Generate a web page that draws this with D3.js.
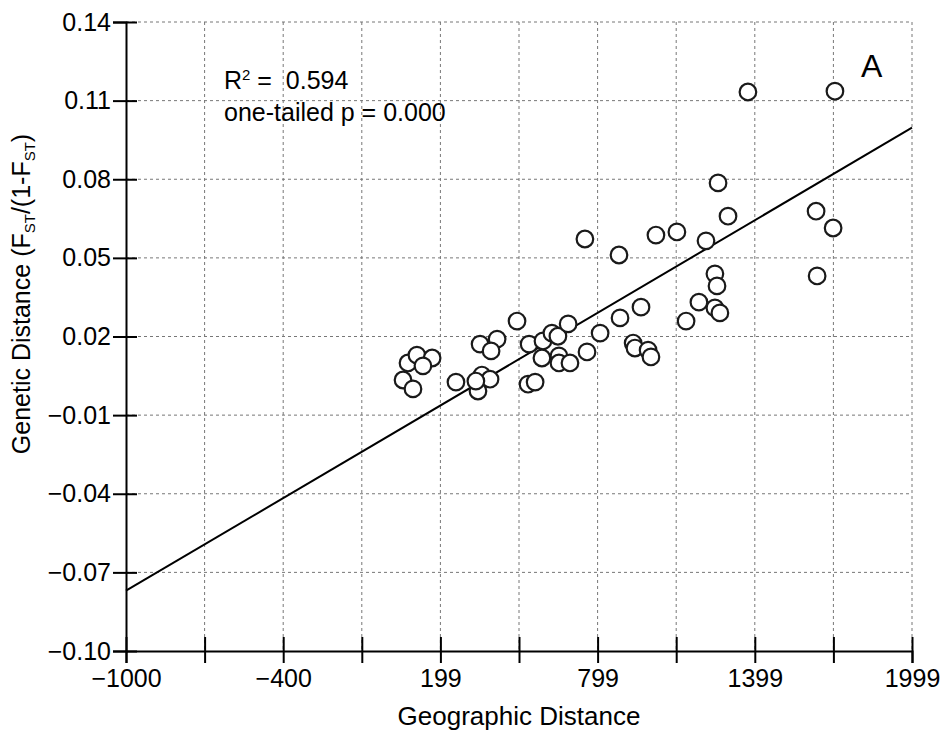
<!doctype html>
<html>
<head>
    <style>
        body { margin: 0; background: #fff; }
        svg { font-family: "Liberation Sans", Arial, sans-serif; }
        .grid line { stroke: #777; stroke-width: 1; stroke-dasharray: 3,3; }
        .axis path, .axis line { stroke: #000; stroke-width: 2; }
        .axis text { font-size: 25px; fill: #000; }
        .dot { fill: #fff; stroke: #1a1a1a; stroke-width: 2.2; }
    </style>
    <script src="https://d3js.org/d3.v7.min.js"></script>
</head>
<body>
<svg width="941" height="735"></svg>
<script>
// geographic distance / genetic distance pairs
var geoDist = [57, 95, 76, 110, 168, 133, 259, 351, 416, 393, 358, 343, 389, 335,
    492, 538, 534, 561, 591, 587, 625, 648, 687, 652, 652, 694, 759, 809, 885, 965,
    935, 942, 992, 1003, 751, 881, 1022, 1102, 1213, 1297, 1259, 1247, 1255, 1186,
    1247, 1266, 1137, 1373, 1705, 1633, 1698, 1637];
var genDist = [0.0034, 0.0000, 0.0099, 0.0129, 0.0118, 0.0088, 0.0026, 0.0171, 0.0190,
    0.0145, 0.0053, -0.0008, 0.0037, 0.0030, 0.0259, 0.0171, 0.0018, 0.0026, 0.0183,
    0.0118, 0.0213, 0.0201, 0.0248, 0.0126, 0.0099, 0.0099, 0.0141, 0.0213, 0.0271,
    0.0312, 0.0175, 0.0156, 0.0148, 0.0122, 0.0572, 0.0511, 0.0587, 0.0599, 0.0565,
    0.0659, 0.0786, 0.0439, 0.0393, 0.0331, 0.0309, 0.0290, 0.0259, 0.1133, 0.1136,
    0.0678, 0.0614, 0.0431];

// fitted regression line end points
var fitX = [-1000, 1999];
var fitY = [-0.0770, 0.0997];

var xTicks = d3.range(0, 11).map(function(k) { return -1000 + k * 2999 / 10; });
var xTickLabels = ["\u22121000", "", "\u2212400", "", "199", "", "799", "", "1399", "", "1999"];
var yTicks = [0.14, 0.11, 0.08, 0.05, 0.02, -0.01, -0.04, -0.07, -0.10];
var yTickLabels = ["0.14", "0.11", "0.08", "0.05", "0.02", "\u22120.01", "\u22120.04", "\u22120.07", "\u22120.10"];

var svg = d3.select("svg"),
    mLeft = 126, mRight = 912, mTop = 22, mBottom = 651;

var x = d3.scaleLinear().domain([-1000, 1999]).range([mLeft, mRight]),
    y = d3.scaleLinear().domain([-0.10, 0.14]).range([mBottom, mTop]);

// dotted grid
var grid = svg.append("g").attr("class", "grid");
grid.selectAll(".gx").data(xTicks.slice(1)).enter().append("line")
    .attr("x1", function(d) { return x(d); }).attr("x2", function(d) { return x(d); })
    .attr("y1", mTop).attr("y2", mBottom);
grid.selectAll(".gy").data(yTicks.slice(0, -1)).enter().append("line")
    .attr("y1", function(d) { return y(d); }).attr("y2", function(d) { return y(d); })
    .attr("x1", mLeft).attr("x2", mRight);

// axes
var gx = svg.append("g").attr("class", "axis")
    .attr("transform", "translate(0," + mBottom + ")")
    .call(d3.axisBottom(x).tickValues(xTicks).tickSizeOuter(0).tickSize(12).tickPadding(6)
        .tickFormat(function(d, i) { return xTickLabels[i]; }));
gx.selectAll(".tick line").attr("y1", -14);

var gy = svg.append("g").attr("class", "axis")
    .attr("transform", "translate(" + mLeft + ",0)")
    .call(d3.axisLeft(y).tickValues(yTicks).tickSizeOuter(0).tickSize(13).tickPadding(2)
        .tickFormat(function(d, i) { return yTickLabels[i]; }));
gy.selectAll(".tick line").attr("x1", 11);

// regression line
svg.append("line")
    .attr("x1", x(fitX[0])).attr("y1", y(fitY[0]))
    .attr("x2", x(fitX[1])).attr("y2", y(fitY[1]))
    .attr("stroke", "#000").attr("stroke-width", 2);

// points
svg.selectAll(".dot").data(geoDist).enter().append("circle")
    .attr("class", "dot")
    .attr("cx", function(d) { return x(d); })
    .attr("cy", function(d, i) { return y(genDist[i]); })
    .attr("r", 8.3);

// annotations
var r2 = svg.append("text").attr("x", 224).attr("y", 89).attr("font-size", 25);
r2.append("tspan").text("R");
r2.append("tspan").text("2").attr("font-size", 15).attr("dy", -9);
r2.append("tspan").text(" =  0.594").attr("dy", 9).attr("xml:space", "preserve");
svg.append("text").attr("x", 224).attr("y", 121).attr("font-size", 25)
    .text("one-tailed p = 0.000");
svg.append("text").attr("x", 861).attr("y", 77).attr("font-size", 32).text("A");

// axis titles
svg.append("text").attr("x", 519).attr("y", 725)
    .attr("text-anchor", "middle").attr("font-size", 26).text("Geographic Distance");

var yt = svg.append("text").attr("text-anchor", "middle").attr("font-size", 25)
    .attr("transform", "translate(30,294) rotate(-90)");
yt.append("tspan").text("Genetic Distance (F");
yt.append("tspan").text("ST").attr("font-size", 15).attr("dy", 5);
yt.append("tspan").text("/(1-F").attr("dy", -5);
yt.append("tspan").text("ST").attr("font-size", 15).attr("dy", 5);
yt.append("tspan").text(")").attr("dy", -5);
</script>
</body>
</html>
